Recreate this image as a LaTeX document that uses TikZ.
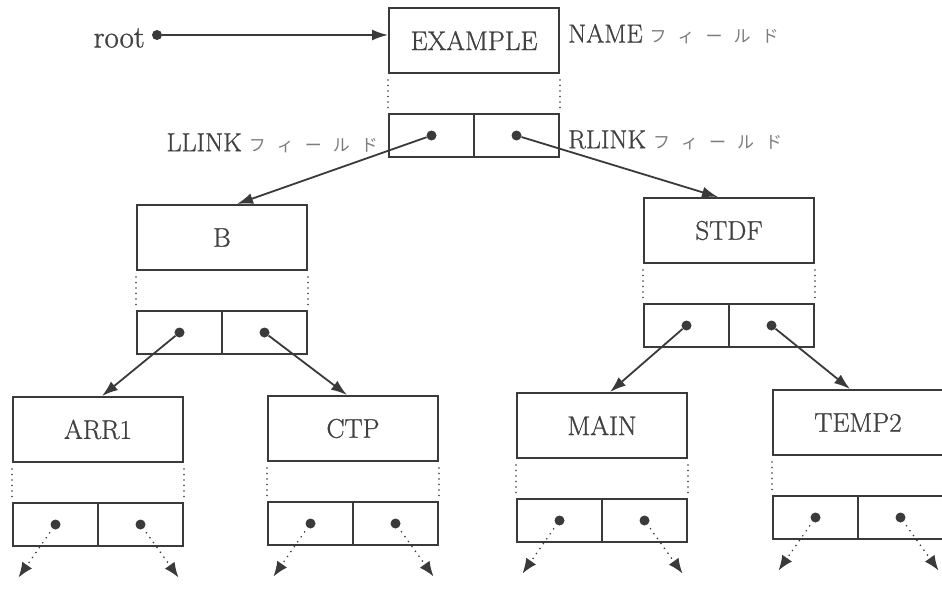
\documentclass[tikz,border=0pt]{standalone}
\usepackage{fontspec}
\setmainfont{Latin Modern Roman}[FakeBold=0.9]
\newfontfamily\jpfont{Noto Sans CJK JP}
\usetikzlibrary{arrows.meta}
\definecolor{ink}{HTML}{3A3A3A}
\definecolor{textgray}{HTML}{404040}
\definecolor{kanagray}{HTML}{7C7C7C}
% the spaced-out katakana word "field"
\newcommand\fieldword{{\jpfont\fontsize{17}{20}\selectfont\color{kanagray}\kern7pt フ\kern11pt ィ\kern11pt ー\kern11pt ル\kern11pt ド}}
\tikzset{
  namebox/.style={draw=ink, line width=2pt, minimum width=170pt, minimum height=65pt,
    inner sep=0pt, text=textgray, font=\fontsize{27}{32}\selectfont},
  cellbox/.style={draw=ink, line width=2pt, minimum width=85pt, minimum height=43pt, inner sep=0pt},
  ptr/.style={circle, fill=ink, minimum size=10pt, inner sep=0pt},
  fieldgap/.style={draw=ink, line width=1.8pt, line cap=round, dash pattern=on 0pt off 5.5pt,
    shorten <=6pt, shorten >=5pt},
  link/.style={draw=ink, line width=1.8pt, -{Latex[length=16pt,width=11pt]}},
  nullptr/.style={draw=ink, line width=1.8pt, line cap=round, dash pattern=on 0pt off 6pt,
    shorten <=5pt, -{Latex[length=15pt,width=12pt]}},
  lbl/.style={text=textgray, font=\fontsize{26}{31}\selectfont, inner sep=0pt},
}
% one symbol-table record: NAME box, LLINK/RLINK cells, pointer dots
% #1 node name, #2 text, #3 left x, #4 top y
\newcommand\symrecord[4]{%
  \node[namebox] (#1) at (#3+85,#4+32.5) {#2};
  \node[cellbox] (#1L) at (#3+42.5,#4+127.5) {};
  \node[cellbox] (#1R) at (#3+127.5,#4+127.5) {};
  \node[ptr] (#1a) at (#1L.center) {};
  \node[ptr] (#1b) at (#1R.center) {};
  \draw[fieldgap] (#1.south west) -- (#1L.north west);
  \draw[fieldgap] (#1.south east) -- (#1R.north east);
}
% empty (null) links of a leaf record
\newcommand\nulllinks[1]{%
  \coordinate (#1na) at ([shift={(-37pt,-53pt)}]#1a.center);
  \coordinate (#1nb) at ([shift={(38pt,-53pt)}]#1b.center);
  \draw[nullptr] (#1a) -- (#1na);
  \draw[nullptr] (#1b) -- (#1nb);
}
\begin{document}
\begin{tikzpicture}[x=1pt, y=-1pt]
  \useasboundingbox[fill=white] (0,0) rectangle (942,589);

  % records of the binary tree
  \symrecord{EXAMPLE}{EXAMPLE}{389}{8}
  \symrecord{B}{B}{137}{205}
  \symrecord{STDF}{STDF}{644}{198}
  \symrecord{ARR1}{ARR1}{13}{397}
  \symrecord{CTP}{CTP}{268}{396}
  \symrecord{MAIN}{MAIN}{517}{393}
  \symrecord{TEMP2}{TEMP2}{773}{390}

  % root pointer
  \node[lbl, anchor=east, font=\fontsize{31}{36}\selectfont] (rootlbl) at (145,38) {root};
  \node[ptr] (rootdot) at (157,35) {};
  \draw[link] (rootdot) -- ([yshift=5.5pt]EXAMPLE.west);

  % field labels
  \node[lbl, anchor=west] (namelbl) at (568,34) {NAME\fieldword};
  \node[lbl, anchor=west] (rlinklbl) at (568,140) {RLINK\fieldword};
  \node[lbl, anchor=east] (llinklbl) at (378,143) {LLINK\fieldword};

  % tree links
  \draw[link] (EXAMPLEa) -- ([xshift=15pt]B.north);
  \draw[link] (EXAMPLEb) -- ([xshift=-11pt]STDF.north);
  \draw[link] (Ba) -- ([xshift=4pt]ARR1.north);
  \draw[link] (Bb) -- ([xshift=-6pt]CTP.north);
  \draw[link] (STDFa) -- ([xshift=8pt]MAIN.north);
  \draw[link] (STDFb) -- ([xshift=-8pt]TEMP2.north);

  % empty links of the leaves
  \nulllinks{ARR1}
  \nulllinks{CTP}
  \nulllinks{MAIN}
  \nulllinks{TEMP2}
\end{tikzpicture}
\end{document}
